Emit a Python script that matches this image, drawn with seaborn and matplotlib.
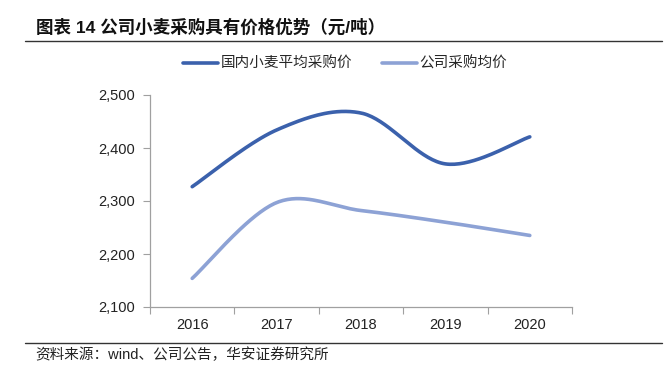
import numpy as np
import pandas as pd
import matplotlib
matplotlib.use("Agg")
import matplotlib.pyplot as plt
from matplotlib.lines import Line2D
import seaborn as sns

years = ["2016", "2017", "2018", "2019", "2020"]
domestic_avg = [2327, 2434, 2466, 2370, 2421]
company_avg = [2154, 2297, 2282, 2260, 2235]
series_names = ["国内小麦平均采购价", "公司采购均价"]
y_ticks = [2100, 2200, 2300, 2400, 2500]

sns.set_theme(style="white")
plt.rcParams["font.family"] = ["Liberation Sans", "Noto Sans CJK SC", "DejaVu Sans"]


def smooth(xs, ys, n=40):
    xs = np.asarray(xs, float)
    ys = np.asarray(ys, float)
    P = np.column_stack([xs, ys])
    P = np.vstack([P[0], P, P[-1]])
    out = []
    for i in range(1, len(P) - 2):
        p0, p1, p2, p3 = P[i - 1], P[i], P[i + 1], P[i + 2]
        c1 = p1 + (p2 - p0) / 6
        c2 = p2 - (p3 - p1) / 6
        t = np.linspace(0, 1, n)[:, None]
        seg = ((1 - t) ** 3) * p1 + 3 * ((1 - t) ** 2) * t * c1 + 3 * (1 - t) * t ** 2 * c2 + t ** 3 * p2
        out.append(seg if i == 1 else seg[1:])
    out = np.vstack(out)
    return out[:, 0], out[:, 1]


fig = plt.figure(figsize=(6.7, 3.74), dpi=100)
ax = fig.add_axes([150 / 670, 1 - 307 / 374, 422 / 670, 212 / 374])

xi = np.arange(len(years))
colors = ["#3B61AC", "#8DA2D5"]
for vals, name, c in zip([domestic_avg, company_avg], series_names, colors):
    sx, sy = smooth(xi, vals)
    sns.lineplot(x=sx, y=sy, ax=ax, color=c, linewidth=2.6, sort=False,
                 estimator=None, label=name, legend=False)

ax.set_ylim(2100, 2500)
ax.set_yticks(y_ticks)
ax.set_yticklabels([f"{v:,}" for v in y_ticks], fontsize=10.5, color="#222222")
ax.set_xlim(-0.5, len(years) - 0.5)
ax.set_xticks(np.arange(-0.5, len(years), 1.0))
ax.set_xticklabels([])
ax.set_xticks(xi, minor=True)
ax.set_xticklabels(years, minor=True, fontsize=10.5, color="#222222")
ax.tick_params(axis="x", which="major", length=5, width=0.8, color="#A0A0A0", direction="out", bottom=True)
ax.tick_params(axis="x", which="minor", length=0, pad=8, bottom=True)
ax.tick_params(axis="y", length=5, width=0.8, color="#A0A0A0", direction="out", left=True, pad=6)
for s in ["top", "right"]:
    ax.spines[s].set_visible(False)
for s in ["left", "bottom"]:
    ax.spines[s].set_color("#A0A0A0")
    ax.spines[s].set_linewidth(0.9)
ax.grid(False)
ax.set_xlabel("")
ax.set_ylabel("")

fig.text(36 / 670, 1 - 27 / 374, "图表 14 公司小麦采购具有价格优势（元/吨）", fontsize=12.6,
         fontweight="bold", va="center", ha="left", color="#111111",
         family=["Liberation Sans", "Noto Sans CJK SC"])
fig.add_artist(Line2D([25 / 670, 662 / 670], [1 - 40.6 / 374] * 2, color="#333333", linewidth=1.0))
fig.add_artist(Line2D([25 / 670, 662 / 670], [1 - 343 / 374] * 2, color="#333333", linewidth=1.0))
fig.text(35 / 670, 1 - 355 / 374, "资料来源：wind、公司公告，华安证券研究所", fontsize=10.5,
         va="center", ha="left", color="#222222",
         family=["Liberation Sans", "Noto Sans CJK SC"])

handles = [Line2D([0], [0], color=c, linewidth=2.6) for c in colors]
fig.legend(handles, series_names, loc="center", bbox_to_anchor=(345 / 670, 1 - 64 / 374),
           ncol=2, frameon=False, handlelength=2.4, handletextpad=0.2,
           columnspacing=2.0, prop={"family": ["Noto Sans CJK SC"], "size": 10.5})

fig.savefig("out.png", dpi=100)
